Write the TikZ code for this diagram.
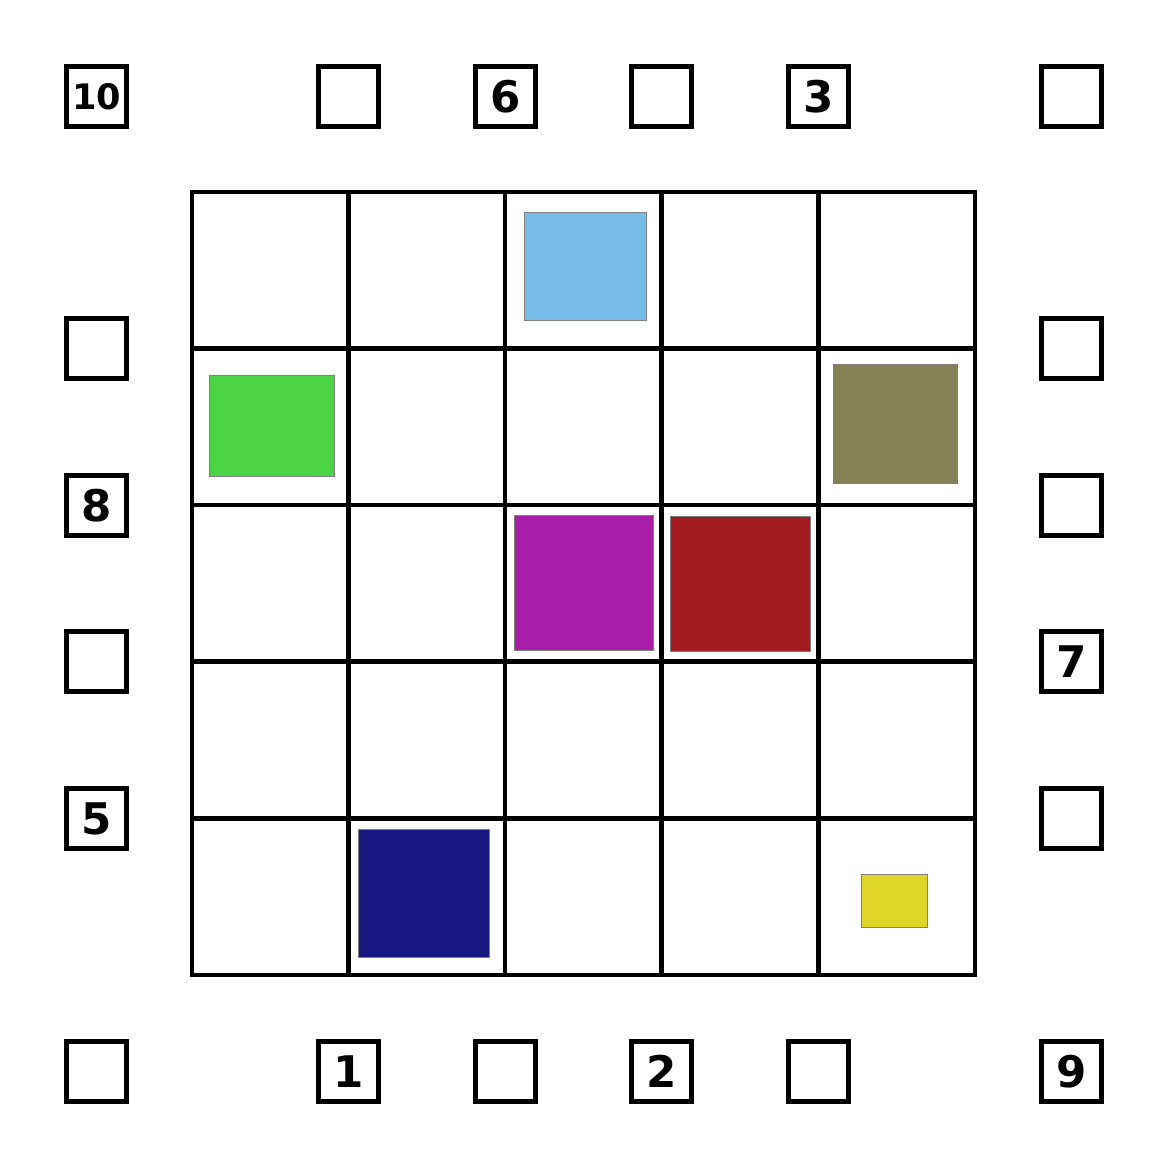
\documentclass[tikz,border=0pt]{standalone}
\usepackage{fontspec}
\setmainfont{DejaVu Sans}
\definecolor{cblue}{HTML}{77BBE9}
\definecolor{cgreen}{HTML}{4CD444}
\definecolor{colive}{HTML}{848154}
\definecolor{cmag}{HTML}{A91EA8}
\definecolor{cred}{HTML}{A31B1F}
\definecolor{cnavy}{HTML}{17187F}
\definecolor{cyellow}{HTML}{E0D62A}
\begin{document}
\begin{tikzpicture}[x=0.05cm,y=-0.05cm,
  gridline/.style={line width=6.8pt,line cap=rect},
  sidebox/.style={draw,line width=6.8pt,minimum size=3.0cm,inner sep=0pt,outer sep=0pt,
    font=\fontsize{62}{62}\selectfont\bfseries},
  piece/.style={draw=gray,line width=1.2pt}]
\useasboundingbox (0,0) rectangle (1167,1167);
\fill[white] (0,0) rectangle (1167,1167);
% grid
\foreach \v in {192,348.5,505,661.5,818.5,975}{
  \draw[gridline] (\v,192) -- (\v,975);
  \draw[gridline] (192,\v) -- (975,\v);
}
% colored pieces
\draw[piece,fill=cblue] (524,212) rectangle (646,320);
\draw[piece,fill=cgreen] (209,375) rectangle (334,476);
\draw[piece,fill=colive] (833,364) rectangle (957,483);
\draw[piece,fill=cmag] (514,515) rectangle (653,650);
\draw[piece,fill=cred] (670,516) rectangle (810,651);
\draw[piece,fill=cnavy] (358,829) rectangle (489,957);
\draw[piece,fill=cyellow] (861,874) rectangle (927,927);
% top row
\node[sidebox,font=\fontsize{50}{50}\selectfont\bfseries] (t1) at (96.5,96.5) {10};
\node[sidebox] (t2) at (348.5,96.5) {};
\node[sidebox] (t3) at (505.5,96.5) {6};
\node[sidebox] (t4) at (661.5,96.5) {};
\node[sidebox] (t5) at (818.5,96.5) {3};
\node[sidebox] (t6) at (1071.5,96.5) {};
% left column
\node[sidebox] (l1) at (96.5,348.5) {};
\node[sidebox] (l2) at (96.5,505.5) {8};
\node[sidebox] (l3) at (96.5,661.5) {};
\node[sidebox] (l4) at (96.5,818.5) {5};
% right column
\node[sidebox] (r1) at (1071.5,348.5) {};
\node[sidebox] (r2) at (1071.5,505.5) {};
\node[sidebox] (r3) at (1071.5,661.5) {7};
\node[sidebox] (r4) at (1071.5,818.5) {};
% bottom row
\node[sidebox] (b1) at (96.5,1071.5) {};
\node[sidebox] (b2) at (348.5,1071.5) {1};
\node[sidebox] (b3) at (505.5,1071.5) {};
\node[sidebox] (b4) at (661.5,1071.5) {2};
\node[sidebox] (b5) at (818.5,1071.5) {};
\node[sidebox] (b6) at (1071.5,1071.5) {9};
\end{tikzpicture}
\end{document}
